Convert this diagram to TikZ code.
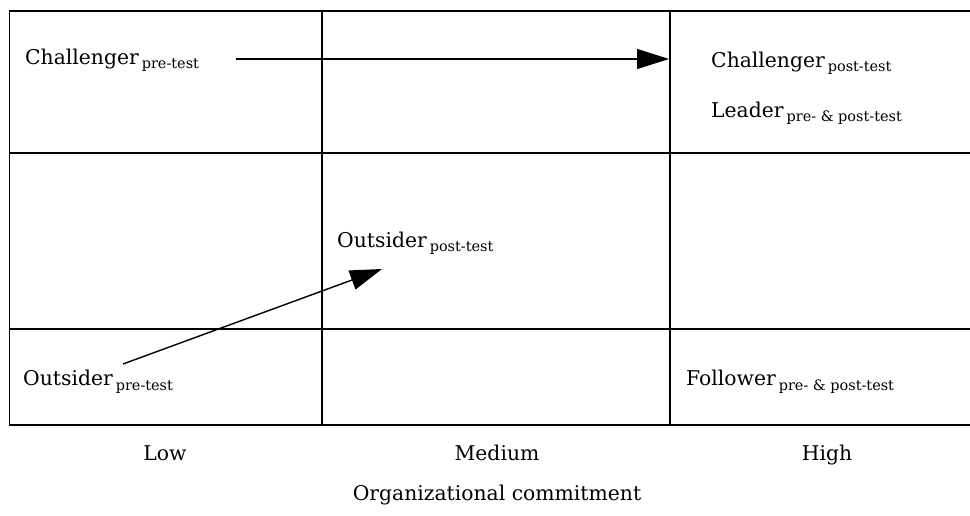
\documentclass[tikz,border=0pt]{standalone}
\usepackage{fontspec}
\setmainfont{DejaVu Serif}
\usetikzlibrary{arrows.meta}
\newcommand\mainsz{\fontsize{20.4}{24}\selectfont}
\newcommand\lbl[2]{#1\kern3bp\raisebox{-4bp}{\fontsize{14.5}{16}\selectfont #2}}
\begin{document}
\begin{tikzpicture}[x=1bp,y=-1bp,
  gridline/.style={line width=1.7bp,black},
  txt/.style={anchor=base west,inner sep=0pt,font=\mainsz},
  ctxt/.style={anchor=base,inner sep=0pt,font=\mainsz},
  arr/.style={line width=1.4bp,-{Triangle[length=32bp,width=20bp]}}]
\useasboundingbox (0,0) rectangle (970,516);
% grid
\draw[gridline] (9.5,11) rectangle (980,425);
\draw[gridline] (322,11) -- (322,425);
\draw[gridline] (670,11) -- (670,425);
\draw[gridline] (9.5,153) -- (980,153);
\draw[gridline] (9.5,329) -- (980,329);
% labels
\node[txt] (chpre) at (25,65) {\lbl{Challenger}{pre-test}};
\node[txt] (chpost) at (711,68) {\lbl{Challenger}{post-test}};
\node[txt] (leader) at (711,118) {\lbl{Leader}{pre- \& post-test}};
\node[txt] (outpost) at (337,248) {\lbl{Outsider}{post-test}};
\node[txt] (outpre) at (23,386) {\lbl{Outsider}{pre-test}};
\node[txt] (follower) at (686,386) {\lbl{Follower}{pre- \& post-test}};
\node[ctxt] (low) at (165,460) {Low};
\node[ctxt] (medium) at (497,460) {Medium};
\node[ctxt] (high) at (827,460) {High};
\node[ctxt] (axis) at (497,500) {Organizational commitment};
% arrows
\coordinate (a1s) at (236,59);
\coordinate (a1e) at (669,59);
\coordinate (a2s) at (123,364);
\coordinate (a2e) at (382,269);
\draw[arr] (a1s) -- (a1e);
\draw[arr] (a2s) -- (a2e);
\end{tikzpicture}
\end{document}
